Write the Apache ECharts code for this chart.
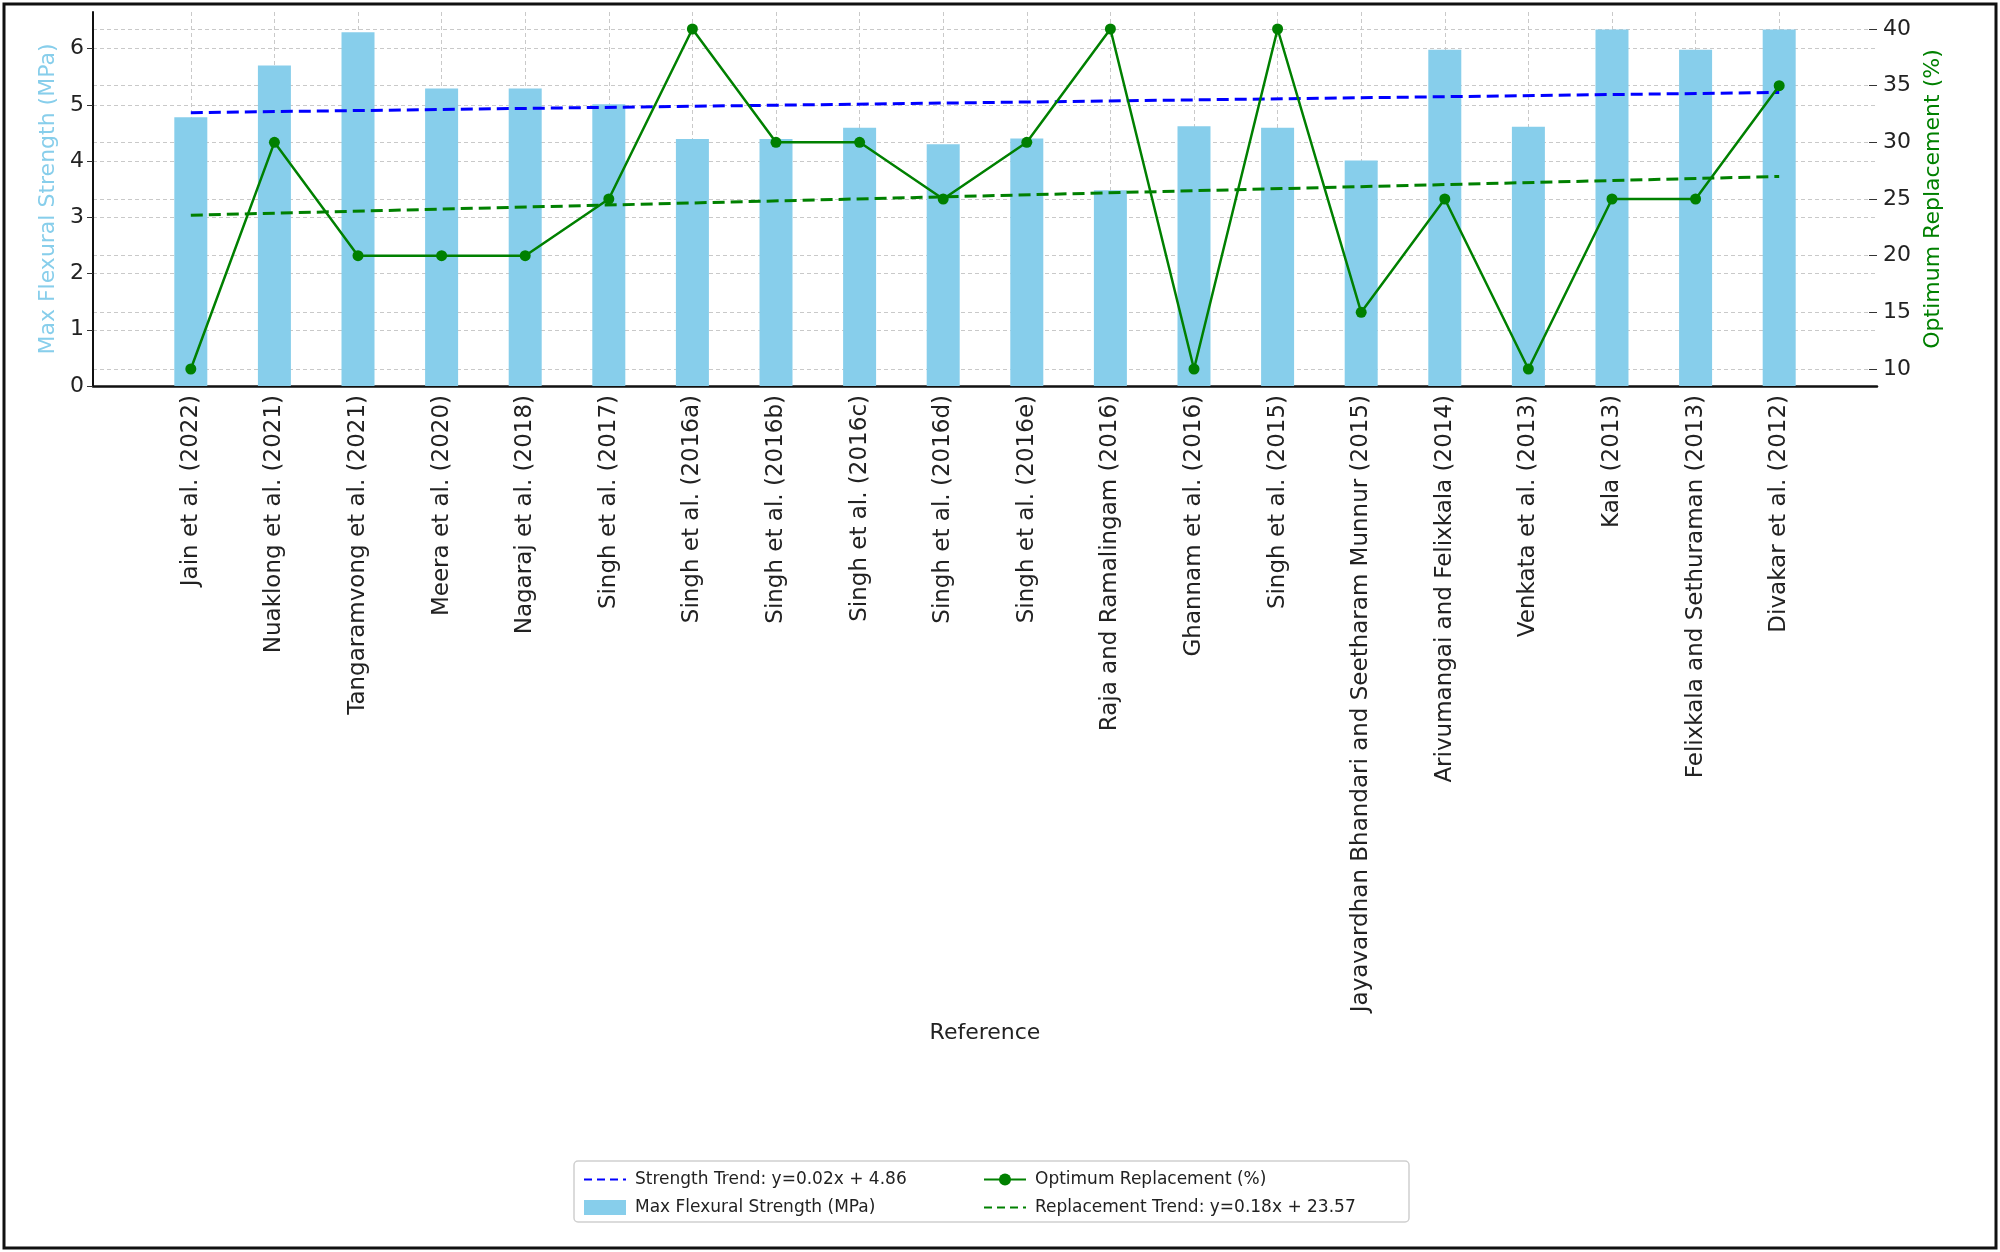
<!DOCTYPE html>
<html>
<head>
<meta charset="utf-8">
<title>Flexural strength vs optimum replacement</title>
<script src="https://cdn.jsdelivr.net/npm/echarts@6/dist/echarts.min.js"></script>
<style>
  html, body { margin: 0; padding: 0; background: #fff; }
  #chart { width: 2000px; height: 1252px; }
</style>
</head>
<body>
<div id="chart"></div>
<script>
// references on the x axis
const references = [
  'Jain et al. (2022)', 'Nuaklong et al. (2021)', 'Tangaramvong et al. (2021)',
  'Meera et al. (2020)', 'Nagaraj et al. (2018)', 'Singh et al. (2017)',
  'Singh et al. (2016a)', 'Singh et al. (2016b)', 'Singh et al. (2016c)',
  'Singh et al. (2016d)', 'Singh et al. (2016e)', 'Raja and Ramalingam (2016)',
  'Ghannam et al. (2016)', 'Singh et al. (2015)',
  'Jayavardhan Bhandari and Seetharam Munnur (2015)', 'Arivumangai and Felixkala (2014)',
  'Venkata et al. (2013)', 'Kala (2013)', 'Felixkala and Sethuraman (2013)',
  'Divakar et al. (2012)'
];
// max flexural strength (MPa)
const strength = [4.78, 5.7, 6.29, 5.29, 5.29, 5.01, 4.39, 4.39, 4.59, 4.3,
  4.4, 3.48, 4.62, 4.59, 4.01, 5.98, 4.61, 6.34, 5.98, 6.34];
// optimum replacement (%)
const replacement = [10, 30, 20, 20, 20, 25, 40, 30, 30, 25,
  30, 40, 10, 40, 15, 25, 10, 25, 25, 35];
// trend lines: value at first and last reference
const strengthTrend = [4.86, 5.22];
const replacementTrend = [23.57, 26.99];
// tick labels
const leftTicks = [0, 1, 2, 3, 4, 5, 6];
const rightTicks = [10, 15, 20, 25, 30, 35, 40];

const names = {
  sTrend: 'Strength Trend: y=0.02x + 4.86',
  bars: 'Max Flexural Strength (MPa)',
  repl: 'Optimum Replacement (%)',
  rTrend: 'Replacement Trend: y=0.18x + 23.57'
};

const FONT = 'DejaVu Sans';
const gridLine = { show: true, lineStyle: { color: '#c9c9c9', type: [4, 3], width: 1 } };

let chart = echarts.init(document.getElementById('chart'), null, { renderer: 'canvas' });

let idx = references.map(function (r, i) { return i; });
let last = references.length - 1;

// legend settings shared by both columns
function legendCol(left, items) {
  return {
    orient: 'vertical',
    left: left,
    top: 1166,
    itemWidth: 42,
    itemHeight: 15,
    itemGap: 11,
    textStyle: { fontFamily: FONT, fontSize: 17, color: '#222', padding: [0, 0, 0, 4] },
    data: items
  };
}

let option = {
  backgroundColor: '#ffffff',
  textStyle: { fontFamily: FONT },
  animation: false,
  grid: { left: 93, right: 123, top: 12, bottom: 866, containLabel: false },
  xAxis: {
    type: 'value',
    min: -1.17,
    max: 20.17,
    name: 'Reference',
    nameLocation: 'middle',
    nameGap: 636,
    nameTextStyle: { fontFamily: FONT, fontSize: 22, color: '#222' },
    axisLine: { show: true, onZero: false, lineStyle: { color: '#111', width: 2.5 } },
    axisTick: { show: true, inside: true, length: 6, customValues: idx, lineStyle: { color: '#333' } },
    axisLabel: {
      customValues: idx,
      rotate: 90,
      margin: 9,
      fontFamily: FONT,
      fontSize: 23,
      color: '#222',
      formatter: function (v) { return references[Math.round(v)]; }
    },
    splitLine: gridLine
  },
  yAxis: [
    {
      type: 'value',
      min: 0,
      max: 6.65,
      position: 'left',
      name: names.bars,
      nameLocation: 'middle',
      nameRotate: 90,
      nameGap: 34,
      nameTextStyle: { fontFamily: FONT, fontSize: 22, color: '#87CEEB' },
      axisLine: { show: true, onZero: false, lineStyle: { color: '#111', width: 2 } },
      axisTick: { show: true, length: 6, customValues: leftTicks, lineStyle: { color: '#333' } },
      axisLabel: { customValues: leftTicks, margin: 9, fontFamily: FONT, fontSize: 22, color: '#222' },
      splitLine: gridLine
    },
    {
      type: 'value',
      min: 8.5,
      max: 41.5,
      position: 'right',
      name: names.repl,
      nameLocation: 'middle',
      nameRotate: 90,
      nameGap: 38,
      nameTextStyle: { fontFamily: FONT, fontSize: 22, color: '#008000' },
      axisLine: { show: false, onZero: false },
      axisTick: { show: true, inside: true, length: 8, customValues: rightTicks, lineStyle: { color: '#333' } },
      axisLabel: { customValues: rightTicks, margin: 6, fontFamily: FONT, fontSize: 22, color: '#222' },
      splitLine: gridLine
    }
  ],
  legend: [
    legendCol(578, [
      { name: names.sTrend, itemStyle: { opacity: 0 }, lineStyle: { type: [8, 5] } },
      { name: names.bars, icon: 'rect' }
    ]),
    legendCol(978, [
      { name: names.repl },
      { name: names.rTrend, itemStyle: { opacity: 0 }, lineStyle: { type: [8, 5] } }
    ])
  ],
  graphic: [
    // legend frame
    {
      type: 'rect',
      z: 0,
      shape: { x: 574, y: 1161, width: 835, height: 61, r: 4 },
      style: { fill: '#fff', stroke: '#cfcfcf', lineWidth: 1.5 }
    },
    // outer border of the picture
    {
      type: 'rect',
      z: 100,
      silent: true,
      shape: { x: 4, y: 4, width: 1992, height: 1244 },
      style: { fill: 'none', stroke: '#111', lineWidth: 3 }
    }
  ],
  series: [
    {
      name: names.bars,
      type: 'bar',
      yAxisIndex: 0,
      barWidth: 33,
      z: 2,
      itemStyle: { color: '#87CEEB' },
      data: strength.map(function (v, i) { return [i, v]; })
    },
    {
      name: names.sTrend,
      type: 'line',
      yAxisIndex: 0,
      symbol: 'none',
      z: 3,
      lineStyle: { color: '#0000FF', width: 3, type: [12, 6] },
      itemStyle: { color: '#0000FF' },
      data: [[0, strengthTrend[0]], [last, strengthTrend[1]]]
    },
    {
      name: names.repl,
      type: 'line',
      yAxisIndex: 1,
      symbol: 'circle',
      symbolSize: 11,
      z: 4,
      lineStyle: { color: '#008000', width: 2.5 },
      itemStyle: { color: '#008000' },
      data: replacement.map(function (v, i) { return [i, v]; })
    },
    {
      name: names.rTrend,
      type: 'line',
      yAxisIndex: 1,
      symbol: 'none',
      z: 3,
      lineStyle: { color: '#008000', width: 3, type: [12, 6] },
      itemStyle: { color: '#008000' },
      data: [[0, replacementTrend[0]], [last, replacementTrend[1]]]
    }
  ]
};

chart.setOption(option);
</script>
</body>
</html>
